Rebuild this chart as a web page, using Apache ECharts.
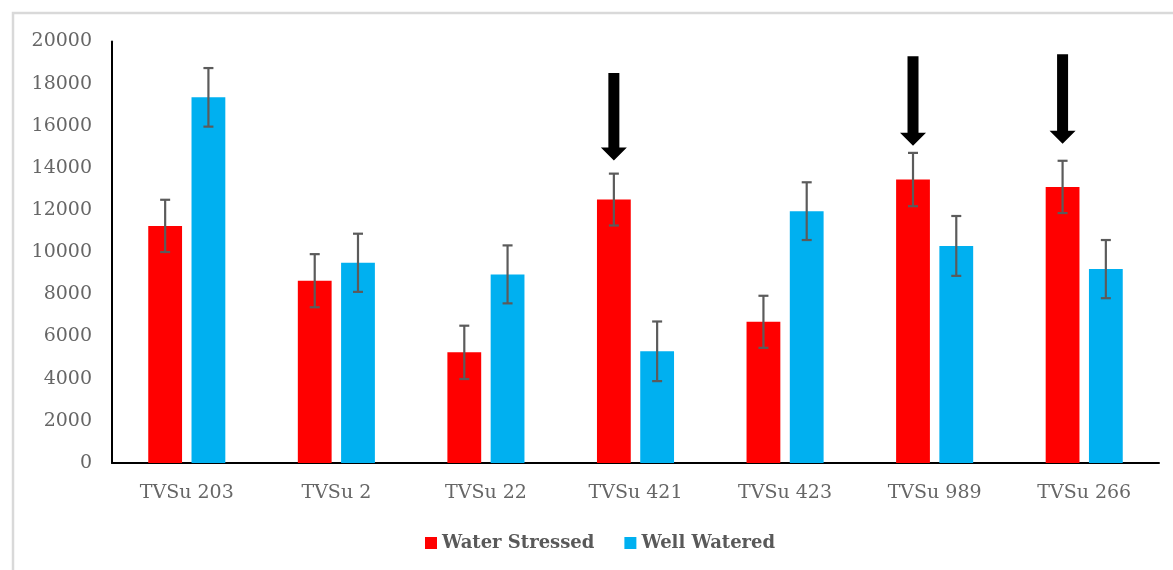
<!DOCTYPE html>
<html>
<head>
<meta charset="utf-8">
<script src="https://cdn.jsdelivr.net/npm/echarts@6/dist/echarts.min.js"></script>
<style>html,body{margin:0;padding:0;background:#fff;}#main{width:1173px;height:570px;}</style>
</head>
<body>
<div id="main"></div>
<script>
const categories = ['TVSu 203', 'TVSu 2', 'TVSu 22', 'TVSu 421', 'TVSu 423', 'TVSu 989', 'TVSu 266'];
const waterStressed = [11250, 8650, 5250, 12500, 6700, 13450, 13100];
const waterStressedErr = [1240, 1260, 1265, 1230, 1235, 1265, 1240];
const wellWatered = [17350, 9500, 8950, 5300, 11950, 10300, 9200];
const wellWateredErr = [1390, 1380, 1375, 1415, 1370, 1420, 1380];
const arrowCategories = ['TVSu 421', 'TVSu 989', 'TVSu 266'];
const arrowTop = [18500, 19300, 19400];
const arrowTip = [14350, 15050, 15150];
const yTicks = [0, 2000, 4000, 6000, 8000, 10000, 12000, 14000, 16000, 18000, 20000];

const BAR_FRAC = 0.226;
const GAP_FRAC = 0.28;
const FONT = '"DejaVu Serif", serif';

function barCenterOffset(api, sign) {
  const band = api.size([1, 0])[0];
  const bw = band * BAR_FRAC;
  return sign * (bw + bw * GAP_FRAC) / 2;
}

function errorRender(sign) {
  return function (params, api) {
    const c = api.value(0);
    const lo = api.coord([c, api.value(1)]);
    const hi = api.coord([c, api.value(2)]);
    const x = lo[0] + barCenterOffset(api, sign);
    const cap = 5;
    const style = { stroke: '#5b5b5b', lineWidth: 2.2 };
    return {
      type: 'group',
      children: [
        { type: 'line', shape: { x1: x, y1: lo[1], x2: x, y2: hi[1] }, style: style },
        { type: 'line', shape: { x1: x - cap, y1: lo[1], x2: x + cap, y2: lo[1] }, style: style },
        { type: 'line', shape: { x1: x - cap, y1: hi[1], x2: x + cap, y2: hi[1] }, style: style }
      ]
    };
  };
}

function arrowRender(params, api) {
  const c = api.value(0);
  const top = api.coord([c, api.value(1)]);
  const tip = api.coord([c, api.value(2)]);
  const x = top[0] + barCenterOffset(api, -1);
  const sw = 5.5, hw = 13, hh = 13;
  const hs = tip[1] - hh;
  return {
    type: 'polygon',
    shape: { points: [[x - sw, top[1]], [x + sw, top[1]], [x + sw, hs], [x + hw, hs], [x, tip[1]], [x - hw, hs], [x - sw, hs]] },
    style: { fill: '#000' }
  };
}

const chart = echarts.init(document.getElementById('main'));
chart.setOption({
  animation: false,
  backgroundColor: '#fff',
  graphic: [{
    type: 'rect', shape: { x: 13, y: 13, width: 1200, height: 600 },
    style: { fill: 'none', stroke: '#d9d9d9', lineWidth: 2.5 }, silent: true, z: -10
  }],
  grid: { left: 112, right: 14, top: 41.5, bottom: 107, containLabel: false },
  legend: {
    left: 420, top: 529,
    itemWidth: 12, itemHeight: 12, itemGap: 30,
    icon: 'rect',
    textStyle: { fontFamily: FONT, fontWeight: 'bold', fontSize: 18, color: '#595959' },
    data: ['Water Stressed', 'Well Watered']
  },
  xAxis: {
    type: 'category', data: categories,
    axisLine: { lineStyle: { color: '#000', width: 2 } },
    axisTick: { show: false },
    axisLabel: { fontFamily: FONT, fontSize: 19, color: '#666', margin: 21 }
  },
  yAxis: {
    type: 'value', min: yTicks[0], max: yTicks[yTicks.length - 1], interval: yTicks[1] - yTicks[0],
    axisLine: { show: true, lineStyle: { color: '#000', width: 2 } },
    axisTick: { show: false },
    splitLine: { show: false },
    axisLabel: { fontFamily: FONT, fontSize: 19, color: '#666', margin: 20, formatter: v => String(v) }
  },
  series: [
    { name: 'Water Stressed', type: 'bar', data: waterStressed, barWidth: (BAR_FRAC * 100) + '%', barGap: (GAP_FRAC * 100) + '%',
      itemStyle: { color: '#FF0000' } },
    { name: 'Well Watered', type: 'bar', data: wellWatered, barWidth: (BAR_FRAC * 100) + '%', barGap: (GAP_FRAC * 100) + '%',
      itemStyle: { color: '#00B0F0' } },
    { type: 'custom', name: 'wsErr', renderItem: errorRender(-1), z: 10,
      data: waterStressed.map((v, i) => [i, v - waterStressedErr[i], v + waterStressedErr[i]]), encode: { x: 0, y: [1, 2] } },
    { type: 'custom', name: 'wwErr', renderItem: errorRender(1), z: 10,
      data: wellWatered.map((v, i) => [i, v - wellWateredErr[i], v + wellWateredErr[i]]), encode: { x: 0, y: [1, 2] } },
    { type: 'custom', name: 'arrows', renderItem: arrowRender, z: 10,
      data: arrowCategories.map((c, i) => [categories.indexOf(c), arrowTop[i], arrowTip[i]]), encode: { x: 0, y: [1, 2] } }
  ]
});
</script>
</body>
</html>
